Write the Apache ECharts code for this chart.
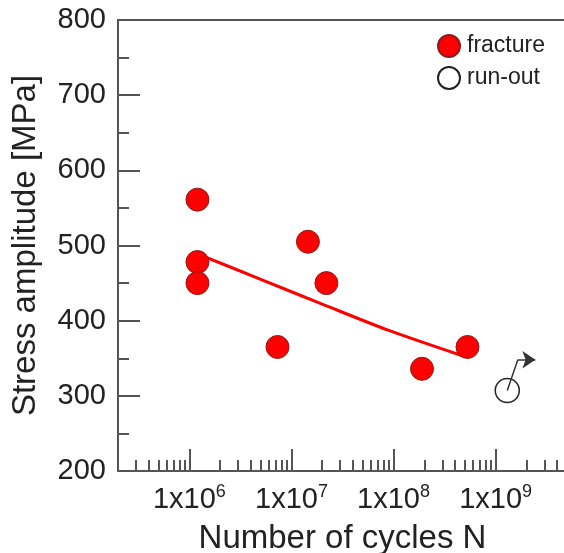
<!DOCTYPE html>
<html>
<head>
<meta charset="utf-8">
<script src="https://cdn.jsdelivr.net/npm/echarts@6/dist/echarts.min.js"></script>
<style>
  html, body { margin: 0; padding: 0; background: #fff; }
  #chart { width: 564px; height: 553px; }
</style>
</head>
<body>
<div id="chart"></div>
<script>
// values
const fractureN = [1.2e6, 1.2e6, 1.2e6, 7.3e6, 1.45e7, 2.2e7, 1.9e8, 5.3e8];
const fractureS = [561, 478, 450, 365, 505, 450, 336, 365];
const runoutN = [1.3e9];
const runoutS = [307];
const fitN = [1.2e6, 5e6, 2e7, 9e7, 4.8e8];
const fitS = [489, 455, 422, 387, 353];
// arrow from the run-out point: kink, then tip
const arrowN = [1.3e9, 1.65e9, 2.45e9];
const arrowS = [307, 348, 348];

const majorTicks = [1e6, 1e7, 1e8, 1e9];
const minorTicks = [];
[1e5, 1e6, 1e7, 1e8, 1e9].forEach(d => {
  for (let k = 2; k <= 9; k++) minorTicks.push(k * d);
});

const lg = v => Math.log10(v);
const pairs = (xs, ys) => xs.map((x, i) => [lg(x), ys[i]]);

const font = "'Liberation Sans', Arial, sans-serif";
const axisColor = "#555";
const textColor = "#222";

const chart = echarts.init(document.getElementById("chart"));

const xBase = {
  type: "value",
  min: lg(2e5),
  max: lg(5e9),
  splitLine: { show: false },
};

chart.setOption({
  animation: false,
  backgroundColor: "#fff",
  textStyle: { fontFamily: font },
  grid: {
    left: 118,
    top: 20,
    right: -3,
    bottom: 82,
    outerBoundsMode: "none",
    containLabel: false,
    show: true,
    borderColor: axisColor,
    borderWidth: 2,
  },
  legend: {
    orient: "vertical",
    left: 432,
    top: 29,
    itemWidth: 22,
    itemHeight: 22,
    itemGap: 8,
    icon: "circle",
    data: ["fracture", "run-out"],
    textStyle: { fontSize: 23, color: textColor, fontFamily: font, padding: [0, 0, 0, 2] },
  },
  xAxis: [
    Object.assign({}, xBase, {
      position: "bottom",
      name: "Number of cycles N",
      nameLocation: "middle",
      nameGap: 51,
      nameTextStyle: { fontSize: 33, color: textColor, fontFamily: font },
      axisLine: { lineStyle: { color: axisColor, width: 2 } },
      axisTick: {
        inside: true,
        length: 22,
        customValues: majorTicks.map(lg),
        lineStyle: { color: axisColor, width: 2 },
      },
      axisLabel: {
        customValues: majorTicks.map(lg),
        margin: 12,
        color: textColor,
        formatter: v => "{b|1x10}{s|" + Math.round(v) + "}",
        rich: {
          b: { fontSize: 29, color: textColor, fontFamily: font },
          s: { fontSize: 18, color: textColor, fontFamily: font, padding: [0, 0, 16, 0] },
        },
      },
    }),
    Object.assign({}, xBase, {
      position: "bottom",
      axisLine: { show: false },
      axisTick: {
        inside: true,
        length: 11,
        customValues: minorTicks.filter(v => v > 2e5 && v < 5e9).map(lg),
        lineStyle: { color: axisColor, width: 2 },
      },
      axisLabel: { show: false },
    }),
  ],
  yAxis: {
    type: "value",
    min: 200,
    max: 800,
    interval: 100,
    name: "Stress amplitude [MPa]",
    nameLocation: "middle",
    nameGap: 76,
    nameTextStyle: { fontSize: 33, color: textColor, fontFamily: font },
    splitLine: { show: false },
    axisLine: { show: true, lineStyle: { color: axisColor, width: 2 } },
    axisTick: { inside: true, length: 22, lineStyle: { color: axisColor, width: 2 } },
    minorTick: { show: true, splitNumber: 2, length: 11, lineStyle: { color: axisColor, width: 2 } },
    axisLabel: { fontSize: 29, color: textColor, margin: 12 },
  },
  series: [
    {
      name: "fit",
      type: "line",
      data: pairs(fitN, fitS),
      smooth: 0.3,
      showSymbol: false,
      lineStyle: { color: "#ff0000", width: 3 },
      z: 1,
    },
    {
      name: "fracture",
      type: "scatter",
      data: pairs(fractureN, fractureS),
      symbolSize: 23,
      itemStyle: { color: "#ff0000", borderColor: "#8a1c1c", borderWidth: 1, opacity: 1 },
      z: 3,
    },
    {
      name: "run-out",
      type: "scatter",
      data: pairs(runoutN, runoutS),
      symbolSize: 24,
      itemStyle: { color: "#fff", borderColor: "#222", borderWidth: 1.5, opacity: 1 },
      z: 3,
      markLine: {
        silent: true,
        animation: false,
        label: { show: false },
        symbolSize: 13,
        lineStyle: { color: "#333", width: 1.5, type: "solid" },
        data: [
          [
            { coord: [lg(arrowN[0]), arrowS[0]], symbol: "none" },
            { coord: [lg(arrowN[1]), arrowS[1]], symbol: "none" },
          ],
          [
            { coord: [lg(arrowN[1]), arrowS[1]], symbol: "none" },
            { coord: [lg(arrowN[2]), arrowS[2]], symbol: "arrow" },
          ],
        ],
      },
    },
  ],
});
</script>
</body>
</html>
